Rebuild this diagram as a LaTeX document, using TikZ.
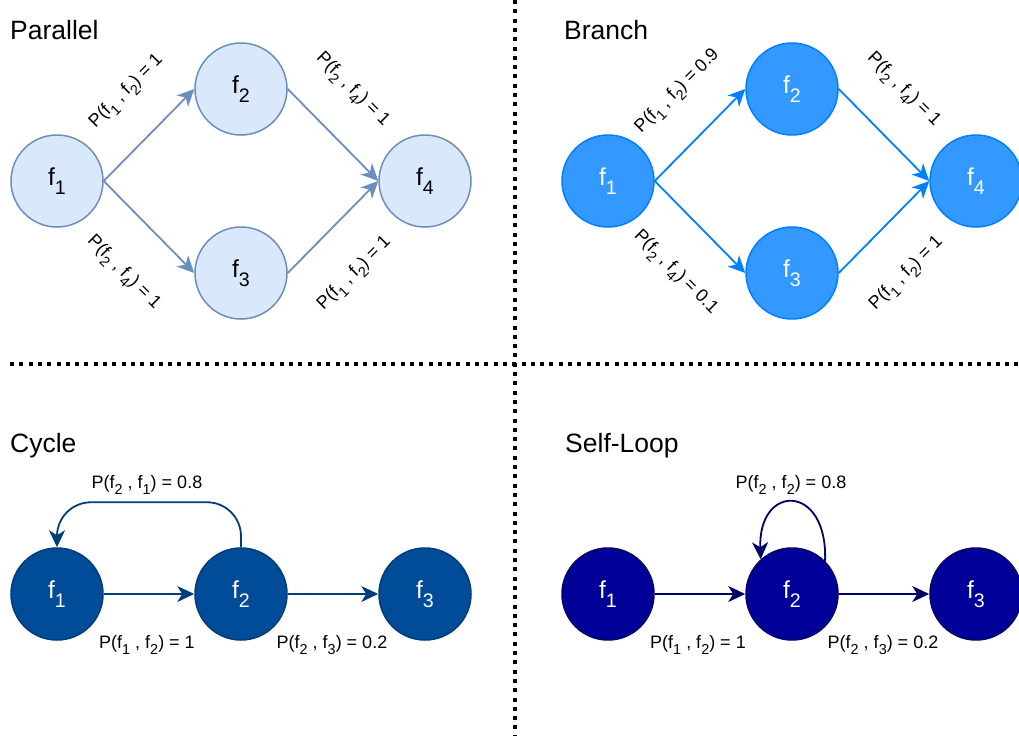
\documentclass[tikz,border=0pt]{standalone}
\usepackage{fontspec}
\setmainfont{Liberation Sans}
\usetikzlibrary{arrows.meta}

\definecolor{parfill}{HTML}{DAE8FC}
\definecolor{parline}{HTML}{6C8EBF}
\definecolor{brafill}{HTML}{3399FF}
\definecolor{braline}{HTML}{007FFF}
\definecolor{cycfill}{HTML}{004C99}
\definecolor{cycline}{HTML}{003D7A}
\definecolor{selfill}{HTML}{000099}
\definecolor{selline}{HTML}{000066}

\newcommand{\lowidx}[1]{\raisebox{-0.35em}{\scalebox{0.8}{#1}}}
\newcommand{\probtxt}[3]{P(f\lowidx{#1} , f\lowidx{#2}) = #3}

\begin{document}
\begin{tikzpicture}[
    x=1pt, y=-1pt,
    func/.style={circle, minimum size=92pt, inner sep=0pt, line width=1.5pt, font=\fontsize{24.5}{28}\selectfont},
    flow/.style={line width=1.8pt, -{Stealth[length=17pt, width=16pt, inset=5pt]}},
    prob/.style={font=\fontsize{18}{20}\selectfont, inner sep=1pt},
    title/.style={font=\fontsize{26.5}{30}\selectfont, anchor=base west, inner sep=0pt},
    divider/.style={line width=4pt, dash pattern=on 4pt off 5.3pt}
]
\useasboundingbox (0,0) rectangle (1019,736);

% Dividers
\draw[divider] (515,0) -- (515,736);
\draw[divider] (10,363.5) -- (1019,363.5);

% Top left: parallel
\node[title] (tpar) at (10,39) {Parallel};
\node[func, draw=parline, fill=parfill] (p1) at (57,181) {f\lowidx{1}};
\node[func, draw=parline, fill=parfill] (p2) at (241,89) {f\lowidx{2}};
\node[func, draw=parline, fill=parfill] (p3) at (241,273) {f\lowidx{3}};
\node[func, draw=parline, fill=parfill] (p4) at (425,181) {f\lowidx{4}};

\draw[flow, parline] (p1.east) -- (p2.west);
\draw[flow, parline] (p1.east) -- (p3.west);
\draw[flow, parline] (p2.east) -- (p4.west);
\draw[flow, parline] (p3.east) -- (p4.west);

\node[prob, rotate=45]  (lp12) at (127,92)  {\probtxt{1}{2}{1}};
\node[prob, rotate=-45] (lp13) at (123,273) {\probtxt{2}{4}{1}};
\node[prob, rotate=-45] (lp24) at (352,90)  {\probtxt{2}{4}{1}};
\node[prob, rotate=45]  (lp34) at (355,274) {\probtxt{1}{2}{1}};

% Top right: branch
\node[title] (tbra) at (564,39) {Branch};
\node[func, draw=braline, fill=brafill, text=white] (b1) at (608,181) {f\lowidx{1}};
\node[func, draw=braline, fill=brafill, text=white] (b2) at (792,89) {f\lowidx{2}};
\node[func, draw=braline, fill=brafill, text=white] (b3) at (792,273) {f\lowidx{3}};
\node[func, draw=braline, fill=brafill, text=white] (b4) at (976,181) {f\lowidx{4}};

\draw[flow, braline] (b1.east) -- (b2.west);
\draw[flow, braline] (b1.east) -- (b3.west);
\draw[flow, braline] (b2.east) -- (b4.west);
\draw[flow, braline] (b3.east) -- (b4.west);

\node[prob, rotate=45]  (lb12) at (678,92)  {\probtxt{1}{2}{0.9}};
\node[prob, rotate=-45] (lb13) at (675,273) {\probtxt{2}{4}{0.1}};
\node[prob, rotate=-45] (lb24) at (903,90)  {\probtxt{2}{4}{1}};
\node[prob, rotate=45]  (lb34) at (907,274) {\probtxt{1}{2}{1}};

% Bottom left: cycle
\node[title] (tcyc) at (10,452) {Cycle};
\node[func, draw=cycline, fill=cycfill, text=white] (c1) at (57,594) {f\lowidx{1}};
\node[func, draw=cycline, fill=cycfill, text=white] (c2) at (241,594) {f\lowidx{2}};
\node[func, draw=cycline, fill=cycfill, text=white] (c3) at (425,594) {f\lowidx{3}};

\draw[flow, cycline] (c1.east) -- (c2.west);
\draw[flow, cycline] (c2.east) -- (c3.west);
\draw[flow, cycline, rounded corners=34pt] (c2.north) -- ++(0,-45) -| (c1.north);

\node[prob, anchor=base] (lc21) at (147,488) {\probtxt{2}{1}{0.8}};
\node[prob, anchor=base] (lc12) at (147,648) {\probtxt{1}{2}{1}};
\node[prob, anchor=base] (lc23) at (332,648) {\probtxt{2}{3}{0.2}};

% Bottom right: self-loop
\node[title] (tsel) at (565,452) {Self-Loop};
\node[func, draw=selline, fill=selfill, text=white] (s1) at (608,594) {f\lowidx{1}};
\node[func, draw=selline, fill=selfill, text=white] (s2) at (792,594) {f\lowidx{2}};
\node[func, draw=selline, fill=selfill, text=white] (s3) at (976,594) {f\lowidx{3}};

\draw[flow, selline] (s1.east) -- (s2.west);
\draw[flow, selline] (s2.east) -- (s3.west);
\draw[flow, selline] (s2.45) .. controls (828,483) and (758,483) .. (s2.132);

\node[prob, anchor=base] (ls22) at (791,488) {\probtxt{2}{2}{0.8}};
\node[prob, anchor=base] (ls12) at (698,648) {\probtxt{1}{2}{1}};
\node[prob, anchor=base] (ls23) at (883,648) {\probtxt{2}{3}{0.2}};

\end{tikzpicture}
\end{document}
